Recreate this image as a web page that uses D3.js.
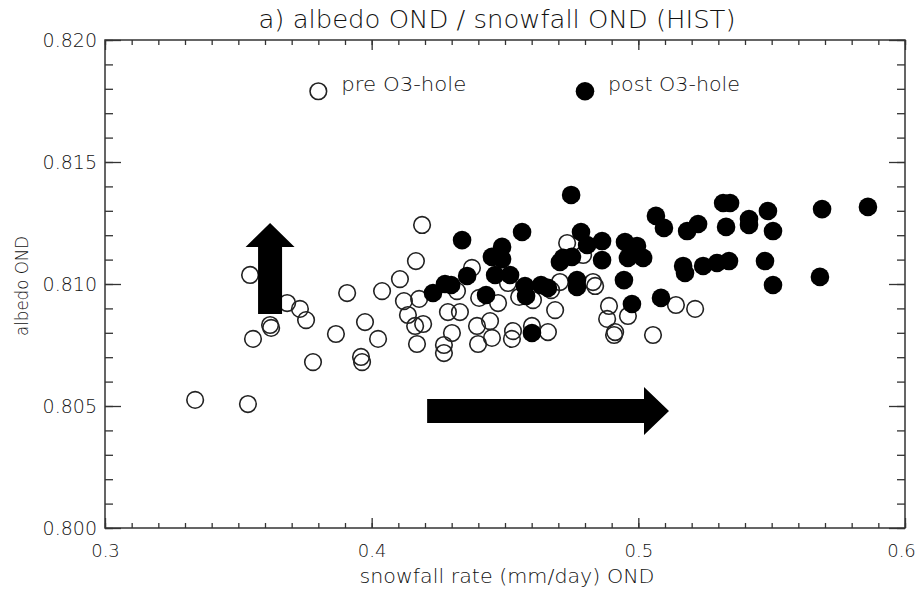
<!DOCTYPE html>
<html>
<head>
<meta charset="utf-8">
<script src="https://cdn.jsdelivr.net/npm/d3@7"></script>
<style>
  body { margin: 0; background: #fff; }
  text { font-family: "DejaVu Sans", sans-serif; font-weight: 200; fill: #111; }
  .frame { fill: none; stroke: #333; stroke-width: 1.5; }
  .axis line { stroke: #333; stroke-width: 1.3; }
  .axis path { display: none; }
  .pre { fill: none; stroke: #222; stroke-width: 1.6; }
  .post { fill: #000; }
</style>
</head>
<body>
<svg id="chart" width="919" height="589"></svg>
<script>
// snowfall rate (mm/day) OND vs albedo OND
const preSnow = [0.3338, 0.3536, 0.3544, 0.3555, 0.3619, 0.3623, 0.3683, 0.3731, 0.3754, 0.3780,
  0.3866, 0.3908, 0.3960, 0.3964, 0.3975, 0.4024, 0.4039, 0.4106, 0.4121, 0.4136,
  0.4163, 0.4166, 0.4178, 0.4170, 0.4189, 0.4193, 0.4271, 0.4271, 0.4286, 0.4301,
  0.4320, 0.4331, 0.4376, 0.4395, 0.4399, 0.4403, 0.4444, 0.4451, 0.4474, 0.4511,
  0.4526, 0.4530, 0.4553, 0.4601, 0.4605, 0.4661, 0.4673, 0.4688, 0.4706, 0.4733,
  0.4793, 0.4830, 0.4838, 0.4883, 0.4890, 0.4909, 0.4913, 0.4961, 0.5055, 0.5141,
  0.5213];
const preAlbedo = [0.80525, 0.80508, 0.81037, 0.80775, 0.80832, 0.80820, 0.80922, 0.80898, 0.80852, 0.80680,
  0.80795, 0.80963, 0.80701, 0.80680, 0.80844, 0.80775, 0.80971, 0.81020, 0.80930, 0.80873,
  0.80828, 0.81094, 0.80939, 0.80754, 0.81242, 0.80836, 0.80750, 0.80717, 0.80885, 0.80799,
  0.80971, 0.80885, 0.81066, 0.80828, 0.80754, 0.80943, 0.80848, 0.80779, 0.80922, 0.81004,
  0.80775, 0.80807, 0.80947, 0.80828, 0.80934, 0.80803, 0.80975, 0.80893, 0.81008, 0.81168,
  0.81119, 0.81008, 0.80992, 0.80857, 0.80910, 0.80791, 0.80803, 0.80869, 0.80791, 0.80914,
  0.80898];

const postSnow = [0.4230, 0.4275, 0.4298, 0.4339, 0.4358, 0.4429, 0.4451, 0.4489, 0.4489, 0.4463,
  0.4519, 0.4564, 0.4575, 0.4579, 0.4635, 0.4661, 0.4601, 0.4718, 0.4751, 0.4706,
  0.4748, 0.4785, 0.4808, 0.4864, 0.4864, 0.4770, 0.4770, 0.4950, 0.4995, 0.4961,
  0.5018, 0.4946, 0.4976, 0.5066, 0.5096, 0.5183, 0.5224, 0.5168, 0.5175, 0.5243,
  0.5295, 0.5340, 0.5318, 0.5344, 0.5329, 0.5415, 0.5415, 0.5486, 0.5505, 0.5475,
  0.5505, 0.5681, 0.5689, 0.5861, 0.5085];
const postAlbedo = [0.80963, 0.81000, 0.80996, 0.81180, 0.81033, 0.80955, 0.81111, 0.81152, 0.81102, 0.81037,
  0.81037, 0.81213, 0.80992, 0.80951, 0.80996, 0.80984, 0.80799, 0.81107, 0.81111, 0.81090,
  0.81365, 0.81213, 0.81160, 0.81176, 0.81098, 0.81016, 0.80988, 0.81172, 0.81156, 0.81107,
  0.81107, 0.81016, 0.80918, 0.81279, 0.81230, 0.81217, 0.81246, 0.81074, 0.81045, 0.81074,
  0.81086, 0.81094, 0.81332, 0.81332, 0.81234, 0.81266, 0.81242, 0.81299, 0.81217, 0.81094,
  0.80996, 0.81029, 0.81307, 0.81316, 0.80943];

const xTicks = [0.3, 0.4, 0.5, 0.6];
const yTicks = [0.800, 0.805, 0.810, 0.815, 0.820];
const xMinor = d3.range(30, 61).map(d => d / 100);
const yMinor = d3.range(800, 821).map(d => d / 1000);

// legend entries and arrows, in data units
const legendItems = [
  {label: "pre O3-hole", x: 0.38, y: 0.8179, cls: "pre", w: 125},
  {label: "post O3-hole", x: 0.48, y: 0.8179, cls: "post", w: 132}
];
const upArrow = {x: 0.3619, y0: 0.80877, y1: 0.8125};
const rightArrow = {x0: 0.4208, x1: 0.5115, y: 0.8048};

const svg = d3.select("#chart");
const plotLeft = 105, plotRight = 905, plotTop = 40, plotBottom = 528;

const x = d3.scaleLinear().domain([0.3, 0.6]).range([plotLeft, plotRight]);
const y = d3.scaleLinear().domain([0.8, 0.82]).range([plotBottom, plotTop]);

svg.append("rect").attr("class", "frame")
  .attr("x", plotLeft).attr("y", plotTop)
  .attr("width", plotRight - plotLeft).attr("height", plotBottom - plotTop);

// minor ticks on all four sides
svg.append("g").attr("class", "axis").attr("transform", `translate(0,${plotBottom})`)
  .call(d3.axisBottom(x).tickValues(xMinor).tickSize(-5).tickFormat(""));
svg.append("g").attr("class", "axis").attr("transform", `translate(0,${plotTop})`)
  .call(d3.axisTop(x).tickValues(xMinor).tickSize(-5).tickFormat(""));
svg.append("g").attr("class", "axis").attr("transform", `translate(${plotLeft},0)`)
  .call(d3.axisLeft(y).tickValues(yMinor).tickSize(-8).tickFormat(""));
svg.append("g").attr("class", "axis").attr("transform", `translate(${plotRight},0)`)
  .call(d3.axisRight(y).tickValues(yMinor).tickSize(-8).tickFormat(""));

// major ticks + labels
let xAxis = svg.append("g").attr("class", "axis").attr("transform", `translate(0,${plotBottom})`)
  .call(d3.axisBottom(x).tickValues(xTicks).tickSize(-10).tickPadding(16).tickFormat(d3.format(".1f")));
xAxis.selectAll("text").style("font-size", "18px").attr("fill", "#111")
  .attr("dx", d => d == 0.6 ? -4 : 0);
svg.append("g").attr("class", "axis").attr("transform", `translate(0,${plotTop})`)
  .call(d3.axisTop(x).tickValues(xTicks).tickSize(-10).tickFormat(""));

let yAxis = svg.append("g").attr("class", "axis").attr("transform", `translate(${plotLeft},0)`)
  .call(d3.axisLeft(y).tickValues(yTicks).tickSize(-16).tickPadding(8).tickFormat(d3.format(".3f")));
yAxis.selectAll("text").style("font-size", "19px").attr("fill", "#111");
svg.append("g").attr("class", "axis").attr("transform", `translate(${plotRight},0)`)
  .call(d3.axisRight(y).tickValues(yTicks).tickSize(-16).tickFormat(""));
svg.selectAll(".axis .domain").remove();

// titles
svg.append("text")
  .attr("x", 497).attr("y", 28)
  .attr("text-anchor", "middle")
  .attr("textLength", 477)
  .attr("lengthAdjust", "spacingAndGlyphs")
  .style("font-size", "24px")
  .text("a) albedo OND / snowfall OND (HIST)");

svg.append("text")
  .attr("x", 507).attr("y", 583)
  .attr("text-anchor", "middle")
  .attr("textLength", 295)
  .attr("lengthAdjust", "spacingAndGlyphs")
  .style("font-size", "19px")
  .text("snowfall rate (mm/day) OND");

svg.append("text")
  .attr("transform", "translate(28,286) rotate(-90)")
  .attr("text-anchor", "middle")
  .attr("textLength", 100)
  .attr("lengthAdjust", "spacingAndGlyphs")
  .style("font-size", "18px")
  .text("albedo OND");

// points
let pre = preSnow.map((s, i) => ({s: s, a: preAlbedo[i]}));
let post = postSnow.map((s, i) => ({s: s, a: postAlbedo[i]}));

svg.append("g").selectAll("circle")
  .data(pre)
  .enter()
  .append("circle")
  .attr("class", "pre")
  .attr("cx", d => x(d.s))
  .attr("cy", d => y(d.a))
  .attr("r", 8.3);

svg.append("g").selectAll("circle")
  .data(post)
  .enter()
  .append("circle")
  .attr("class", "post")
  .attr("cx", d => x(d.s))
  .attr("cy", d => y(d.a))
  .attr("r", 9.3);

// legend
let leg = svg.append("g").selectAll("g")
  .data(legendItems)
  .enter()
  .append("g");
leg.append("circle")
  .attr("class", d => d.cls)
  .attr("cx", d => x(d.x))
  .attr("cy", d => y(d.y))
  .attr("r", d => d.cls == "pre" ? 8.3 : 9.3);
leg.append("text")
  .attr("x", d => x(d.x) + 23)
  .attr("y", d => y(d.y))
  .attr("textLength", d => d.w)
  .attr("lengthAdjust", "spacingAndGlyphs")
  .style("font-size", "19px")
  .text(d => d.label);

// arrows
let ux = x(upArrow.x), uy0 = y(upArrow.y0), uy1 = y(upArrow.y1);
svg.append("path")
  .attr("d", `M${ux - 12},${uy0} L${ux - 12},${uy1 + 24} L${ux - 24.5},${uy1 + 24} L${ux},${uy1}
    L${ux + 24.5},${uy1 + 24} L${ux + 12},${uy1 + 24} L${ux + 12},${uy0} Z`)
  .attr("fill", "#000");

let rx0 = x(rightArrow.x0), rx1 = x(rightArrow.x1), ry = y(rightArrow.y);
svg.append("path")
  .attr("d", `M${rx0},${ry - 12} L${rx1 - 25},${ry - 12} L${rx1 - 25},${ry - 24} L${rx1},${ry}
    L${rx1 - 25},${ry + 24} L${rx1 - 25},${ry + 12} L${rx0},${ry + 12} Z`)
  .attr("fill", "#000");
</script>
</body>
</html>
